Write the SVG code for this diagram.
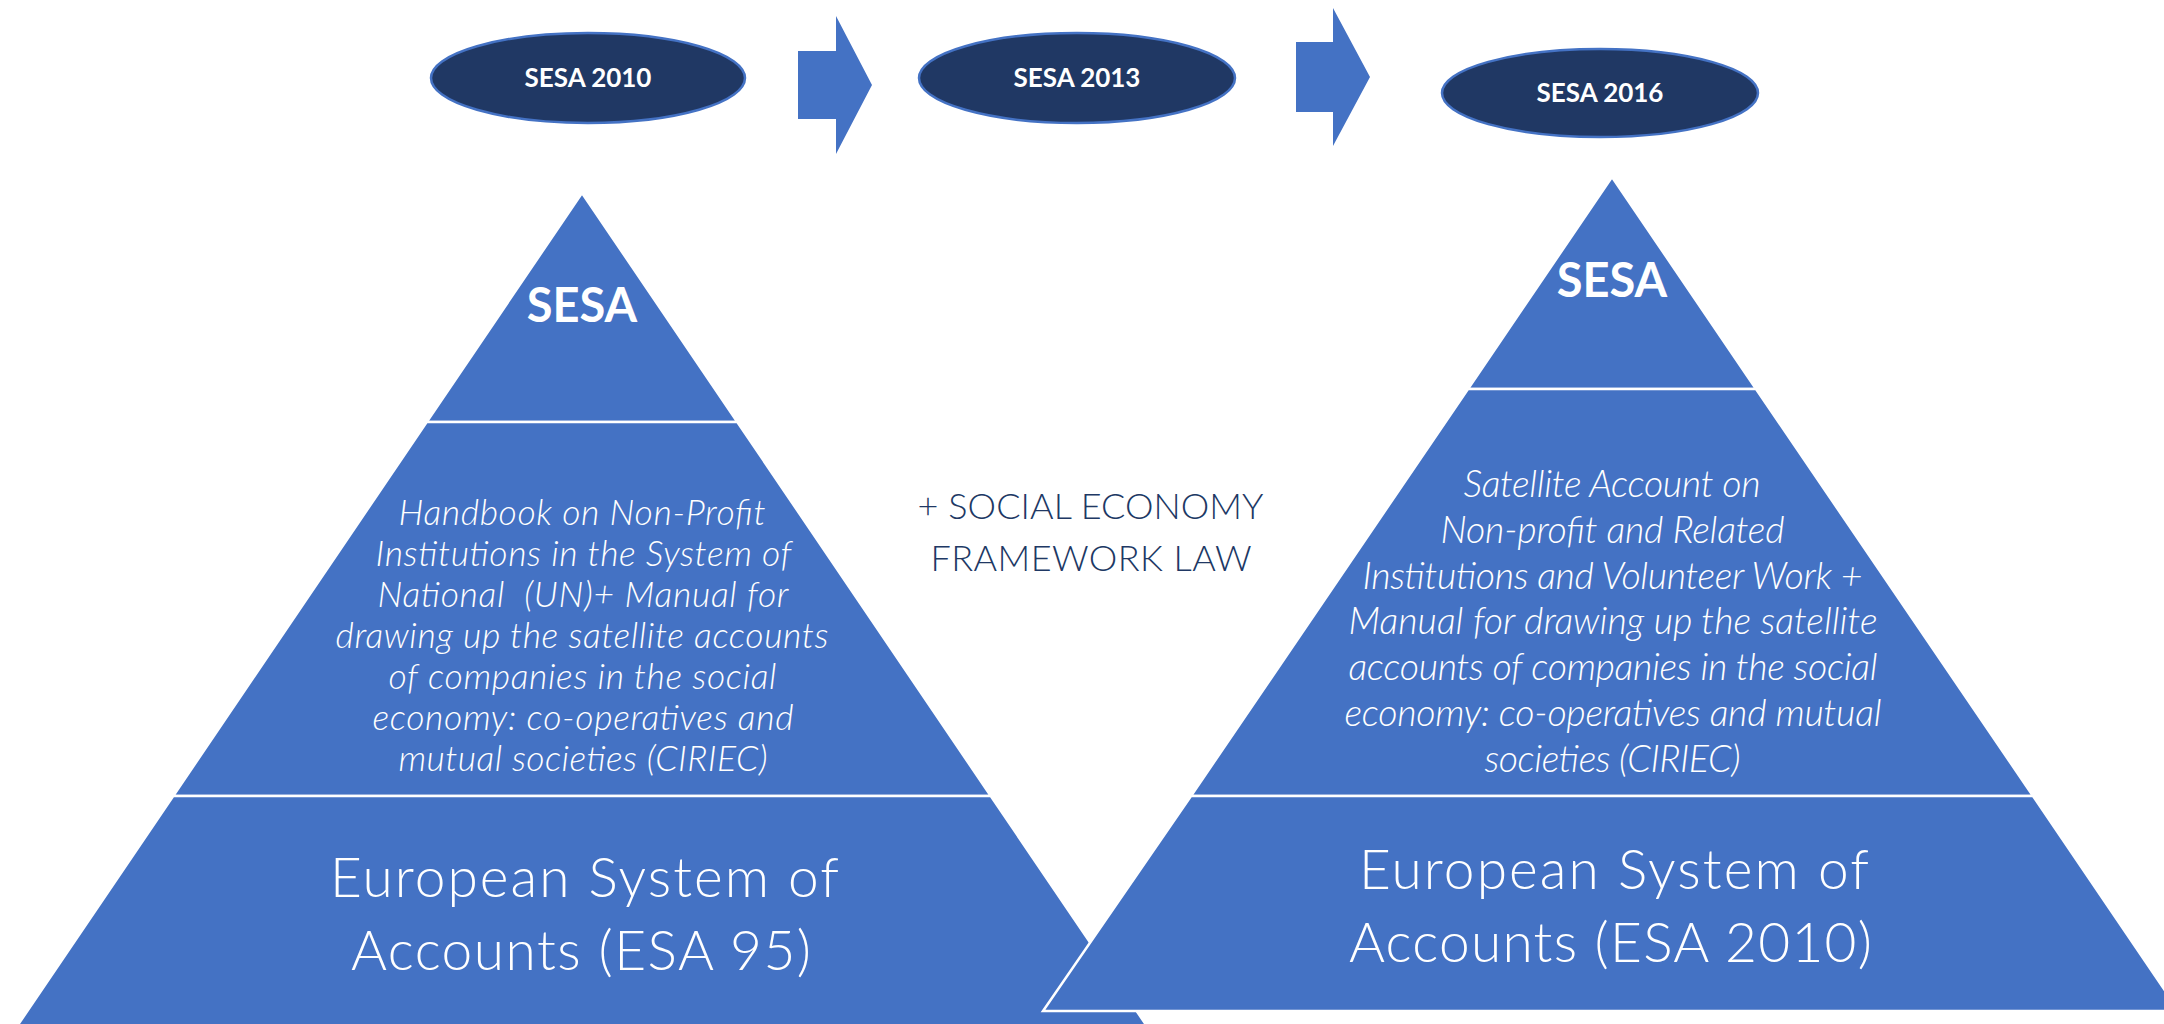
<svg xmlns="http://www.w3.org/2000/svg" width="2164" height="1024" viewBox="0 0 2164 1024">
<style>
.band{fill:#4472C4;stroke:#FFFFFF;stroke-width:2.5;stroke-linejoin:miter}
.oval{fill:#203864;stroke:#4472C4;stroke-width:2.5}
.arrow{fill:#4472C4}
.lbl{font-family:Lato,"Open Sans","Liberation Sans",sans-serif;font-weight:700;fill:#FFFFFF;text-anchor:middle}
.big{font-family:Lato,"Open Sans","Liberation Sans",sans-serif;font-weight:700;fill:#FFFFFF;text-anchor:middle;font-size:47px}
.it{font-family:Lato,"Open Sans","Liberation Sans",sans-serif;font-weight:300;font-style:italic;fill:#FFFFFF;text-anchor:middle}
.l{font-size:35.5px}
.r{font-size:37.5px}
.base{font-family:Lato,"Open Sans","Liberation Sans",sans-serif;font-weight:300;fill:#FFFFFF;text-anchor:middle;font-size:55px}
.mid{font-family:Lato,"Open Sans","Liberation Sans",sans-serif;font-weight:300;fill:#203864;text-anchor:middle;font-size:36px}
</style>
<rect width="2164" height="1024" fill="#FFFFFF"/>
<g id="connectors">
<polygon class="arrow" points="798,51 836,51 836,16 872,85 836,154 836,119 798,119"/>
<polygon class="arrow" points="1296,42 1333,42 1333,8 1370,77 1333,146 1333,112 1296,112"/>
</g>
<g id="sesa2010">
<ellipse class="oval" cx="588" cy="78" rx="157" ry="45"/>
<text class="lbl" x="588" y="87" font-size="26">SESA 2010</text>
</g>
<g id="sesa2013">
<ellipse class="oval" cx="1077" cy="78" rx="158" ry="45"/>
<text class="lbl" x="1077" y="87" font-size="26">SESA 2013</text>
</g>
<g id="sesa2016">
<ellipse class="oval" cx="1600" cy="93" rx="158" ry="44"/>
<text class="lbl" x="1600" y="102" font-size="26">SESA 2016</text>
</g>
<g id="pyramid-left">
<polygon class="band" points="582,193 426.7,422 737.3,422"/>
<polygon class="band" points="426.7,422 737.3,422 990.8,796 173.2,796"/>
<polygon class="band" points="173.2,796 990.8,796 1165.8,1054 -1.8,1054"/>
<text class="big" x="582" y="322">SESA</text>
<text class="it l" x="582" y="525" textLength="367" lengthAdjust="spacing">Handbook on Non-Profit</text>
<text class="it l" x="583.5" y="566" textLength="416" lengthAdjust="spacing">Institutions in the System of</text>
<text class="it l" x="583" y="607" textLength="411" lengthAdjust="spacing">National&#160; (UN)+ Manual for</text>
<text class="it l" x="582" y="648" textLength="493" lengthAdjust="spacing">drawing up the satellite accounts</text>
<text class="it l" x="582.5" y="689" textLength="388" lengthAdjust="spacing">of companies in the social</text>
<text class="it l" x="583" y="730" textLength="421" lengthAdjust="spacing">economy: co-operatives and</text>
<text class="it l" x="583" y="771" textLength="369" lengthAdjust="spacing">mutual societies (CIRIEC)</text>
<text class="base" x="584.5" y="897" textLength="509" lengthAdjust="spacing">European System of</text>
<text class="base" x="581" y="970" textLength="460" lengthAdjust="spacing">Accounts (ESA 95)</text>
</g>
<g id="framework-law">
<text class="mid" x="1090.5" y="519" textLength="346" lengthAdjust="spacing">+ SOCIAL ECONOMY</text>
<text class="mid" x="1091" y="571" textLength="321" lengthAdjust="spacing">FRAMEWORK LAW</text>
</g>
<g id="pyramid-right">
<polygon class="band" points="1612,177 1468,389 1756,389"/>
<polygon class="band" points="1468,389 1756,389 2033,796 1191,796"/>
<polygon class="band" points="1191,796 2033,796 2179,1011 1043,1011"/>
<text class="big" x="1612" y="297">SESA</text>
<text class="it r" x="1612" y="497" textLength="297" lengthAdjust="spacing">Satellite Account on</text>
<text class="it r" x="1612.5" y="543" textLength="344" lengthAdjust="spacing">Non-profit and Related</text>
<text class="it r" x="1612.5" y="589" textLength="500" lengthAdjust="spacing">Institutions and Volunteer Work +</text>
<text class="it r" x="1613" y="634" textLength="529" lengthAdjust="spacing">Manual for drawing up the satellite</text>
<text class="it r" x="1613" y="680" textLength="529" lengthAdjust="spacing">accounts of companies in the social</text>
<text class="it r" x="1613" y="726" textLength="537" lengthAdjust="spacing">economy: co-operatives and mutual</text>
<text class="it r" x="1612.5" y="772" textLength="256" lengthAdjust="spacing">societies (CIRIEC)</text>
<text class="base" x="1614" y="889" textLength="510" lengthAdjust="spacing">European System of</text>
<text class="base" x="1610.5" y="962" textLength="523" lengthAdjust="spacing">Accounts (ESA 2010)</text>
</g>
</svg>
